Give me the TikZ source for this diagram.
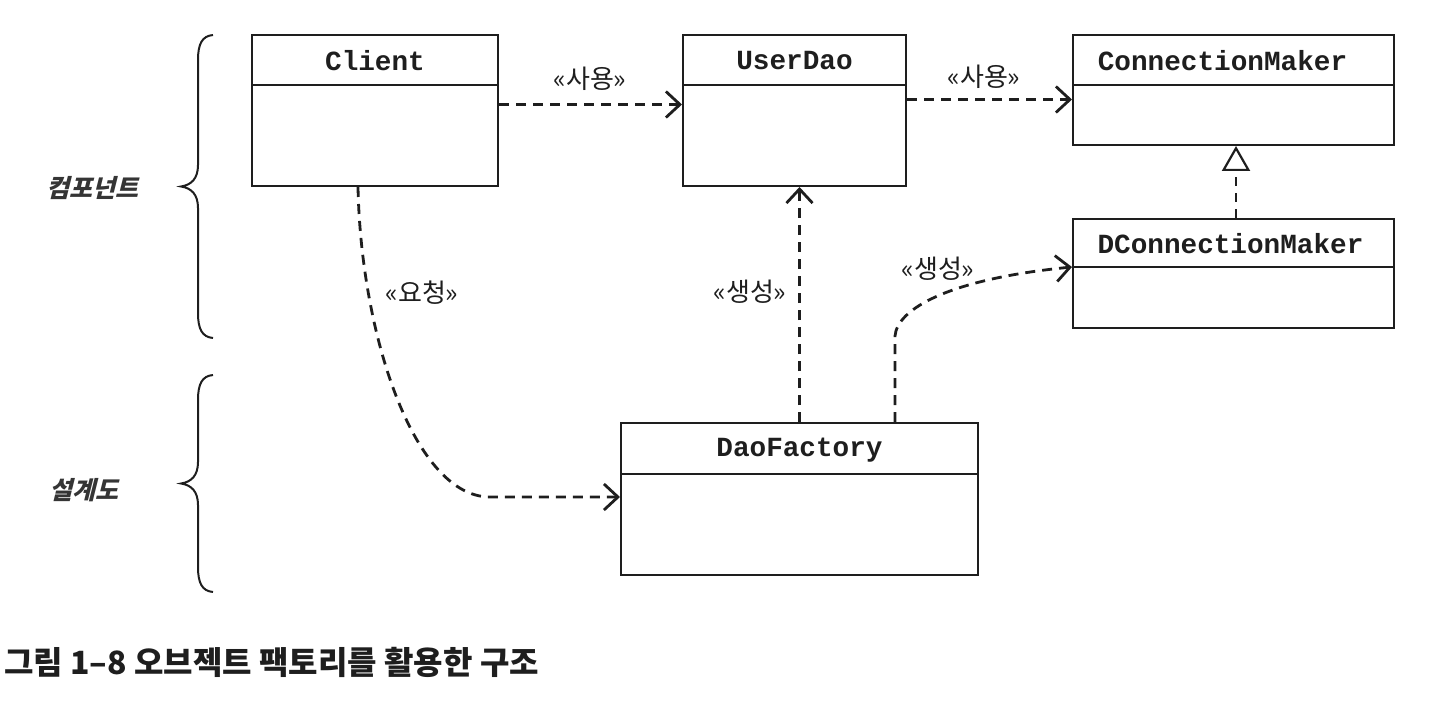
\documentclass[tikz,border=0pt]{standalone}
\usepackage{fontspec}
\usetikzlibrary{arrows.meta,calc}
\newfontfamily\krfont{Noto Sans CJK KR}
\newfontfamily\krslant{Noto Sans CJK KR}[FakeSlant=0.25]
\newfontfamily\monofont{Liberation Mono}
\definecolor{ink}{HTML}{1E1E1E}
\tikzset{
  cls/.style={draw=ink, line width=2pt, rectangle, inner sep=0pt},
  clsname/.style={font=\monofont\bfseries\fontsize{27.7}{30}\selectfont, text=ink, inner sep=0pt},
  dep/.style={draw=ink, line width=2.8pt, dash pattern=on 10pt off 7pt,
     -{Straight Barb[length=14pt,width=26pt,line width=2.8pt]}},
  real/.style={draw=ink, line width=2.4pt, dash pattern=on 9pt off 7pt,
     -{Triangle[open,length=25pt,width=28pt,line width=2.2pt]}},
  stereo/.style={font=\krfont\fontsize{26}{28}\selectfont, text=ink, inner sep=0pt},
  side/.style={font=\krslant\bfseries\fontsize{25}{28}\selectfont, text=ink!90, inner sep=0pt},
  bracepath/.style={draw=ink, line width=2pt},
}
\begin{document}
\begin{tikzpicture}[x=1pt,y=-1pt]
\useasboundingbox (0,0) rectangle (1429,703);

% class boxes
\node[cls, minimum width=246pt, minimum height=151pt] (client) at (375,110.5) {};
\node[cls, minimum width=223pt, minimum height=151pt] (userdao) at (794.5,110.5) {};
\node[cls, minimum width=321pt, minimum height=110pt] (cm) at (1233.5,90) {};
\node[cls, minimum width=321pt, minimum height=109pt] (dcm) at (1233.5,273.5) {};
\node[cls, minimum width=357pt, minimum height=152pt] (df) at (799.5,499) {};

% dividers
\draw[ink, line width=2pt] ([yshift=-51pt]client.north west) -- ([yshift=-51pt]client.north east);
\draw[ink, line width=2pt] ([yshift=-51pt]userdao.north west) -- ([yshift=-51pt]userdao.north east);
\draw[ink, line width=2pt] ([yshift=-51pt]cm.north west) -- ([yshift=-51pt]cm.north east);
\draw[ink, line width=2pt] ([yshift=-49pt]dcm.north west) -- ([yshift=-49pt]dcm.north east);
\draw[ink, line width=2pt] ([yshift=-52pt]df.north west) -- ([yshift=-52pt]df.north east);

% class names
\node[clsname] (clientname) at ([yshift=-27pt]client.north) {Client};
\node[clsname] (userdaoname) at ([yshift=-27pt]userdao.north) {UserDao};
\node[clsname] (cmname) at ([yshift=-27pt,xshift=-11pt]cm.north) {ConnectionMaker};
\node[clsname] (dcmname) at ([yshift=-26pt,xshift=-3pt]dcm.north) {DConnectionMaker};
\node[clsname] (dfname) at ([yshift=-28pt]df.north) {DaoFactory};

% connectors
\draw[dep] ([yshift=6pt]client.east) -- ([yshift=6pt]userdao.west);
\draw[dep] ([yshift=11pt]userdao.east) -- ([yshift=11pt]userdao.east -| cm.west);
\draw[real] ([xshift=2.5pt]dcm.north) -- ([xshift=2.5pt]cm.south);
\draw[dep] (df.north) -- (df.north |- userdao.south);
\coordinate (dfr) at ([xshift=95.5pt]df.north);
\coordinate (dcmin) at ([yshift=-49pt]dcm.north west);
\draw[dep] (dfr) -- ++(0,-86) .. controls ++(2,-27) and ++(-123,12) .. (dcmin);
\coordinate (cls) at ([xshift=-17pt]client.south);
\coordinate (dfin) at ([yshift=2pt]df.west);
\draw[dep] (cls) .. controls ++(3,150) and ++(-75,0) .. (490,497) -- (dfin);

% stereotype labels
\node[stereo] (l1) at (590,79) {«사용»};
\node[stereo] (l2) at (984,77) {«사용»};
\node[stereo] (l3) at (422,293) {«요청»};
\node[stereo] (l4) at (750,292) {«생성»};
\node[stereo] (l5) at (938,269) {«생성»};

% braces
\draw[bracepath] (213,35) .. controls (202,36) and (198,44) .. (198,60) -- (198,165)
  .. controls (198,179) and (191,185) .. (181,186.5)
  .. controls (191,188) and (198,194) .. (198,208) -- (198,313)
  .. controls (198,329) and (202,337) .. (213,338);
\draw[bracepath] (213,375) .. controls (202,376) and (198,384) .. (198,400) -- (198,462)
  .. controls (198,476) and (191,482) .. (181,483.5)
  .. controls (191,485) and (198,491) .. (198,505) -- (198,567)
  .. controls (198,583) and (202,591) .. (213,592);

% side labels
\node[side] (comp) at (92,188) {컴포넌트};
\node[side] (design) at (84,490) {설계도};

% caption
\node[font=\krfont\bfseries\fontsize{32}{34}\selectfont, text=ink, anchor=west, inner sep=0pt] (cap) at (4,662) {그림 1–8 오브젝트 팩토리를 활용한 구조};
\end{tikzpicture}
\end{document}
